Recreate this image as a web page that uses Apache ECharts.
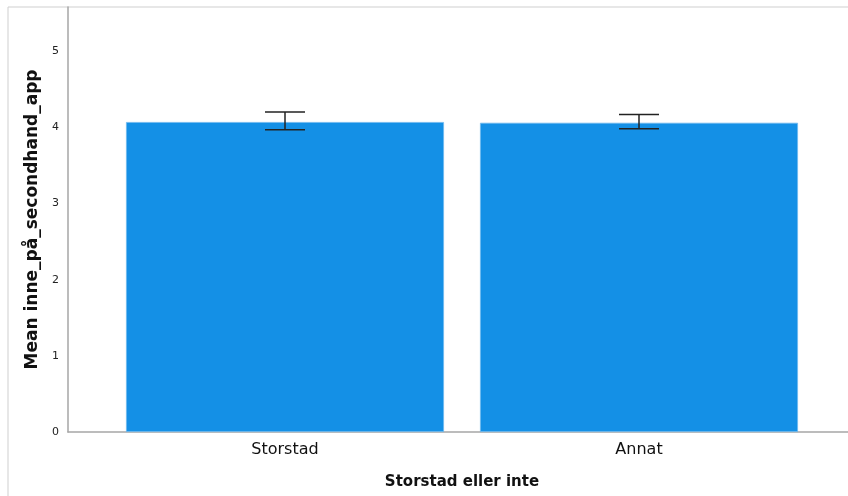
<!DOCTYPE html>
<html>
<head>
<meta charset="utf-8">
<script src="https://cdn.jsdelivr.net/npm/echarts@6/dist/echarts.min.js"></script>
<style>
  html, body { margin: 0; padding: 0; background: #fff; }
  #chart { width: 848px; height: 496px; }
</style>
</head>
<body>
<div id="chart"></div>
<script>
// data
var categories = ['Storstad', 'Annat'];
var means = [4.07, 4.06];
var ciLow = [3.97, 3.98];
var ciHigh = [4.20, 4.17];
var yTicks = [0, 1, 2, 3, 4, 5];

var chart = echarts.init(document.getElementById('chart'));

var FONT = 'DejaVu Sans';
var yMax = 5.58;

var errData = categories.map(function (c, i) {
    return [i, ciLow[i], ciHigh[i]];
});

var option = {
    backgroundColor: '#fff',
    animation: false,
    textStyle: { fontFamily: FONT },
    grid: [
        // frame grid: axis lines + y labels
        { left: 68, right: 0, top: 7, bottom: 64, outerBoundsMode: 'none', containLabel: false },
        // bars
        { left: 108, right: 32, top: 7, bottom: 64, outerBoundsMode: 'none', containLabel: false }
    ],
    xAxis: [
        {
            gridIndex: 0,
            type: 'category',
            data: [''],
            axisLine: { lineStyle: { color: '#a6a6a6', width: 1.5 } },
            axisTick: { show: false },
            axisLabel: { show: false }
        },
        {
            gridIndex: 1,
            type: 'category',
            data: categories,
            axisLine: { show: false },
            axisTick: { show: false },
            axisLabel: { color: '#111', fontSize: 16, margin: 10 },
            name: 'Storstad eller inte',
            nameLocation: 'middle',
            nameGap: 43,
            nameTextStyle: { color: '#111', fontSize: 15, fontWeight: 'bold' }
        }
    ],
    yAxis: [
        {
            gridIndex: 0,
            type: 'value',
            min: 0,
            max: yMax,
            interval: 1,
            axisLine: { show: true, lineStyle: { color: '#a6a6a6', width: 1.5 } },
            axisTick: { show: false },
            splitLine: { show: false },
            axisLabel: {
                color: '#222',
                fontSize: 11,
                margin: 9,
                formatter: function (v) {
                    return yTicks.indexOf(v) >= 0 ? String(v) : '';
                }
            },
            name: 'Mean inne_på_secondhand_app',
            nameLocation: 'middle',
            nameGap: 26,
            nameRotate: 90,
            nameTextStyle: { color: '#111', fontSize: 17, fontWeight: 'bold' }
        },
        {
            gridIndex: 1,
            type: 'value',
            min: 0,
            max: yMax,
            show: false
        }
    ],
    graphic: [
        {
            type: 'line',
            shape: { x1: 8, y1: 7, x2: 848, y2: 7 },
            style: { stroke: '#cfcfcf', lineWidth: 1 }
        },
        {
            type: 'line',
            shape: { x1: 8, y1: 7, x2: 8, y2: 496 },
            style: { stroke: '#cfcfcf', lineWidth: 1 }
        }
    ],
    series: [
        {
            type: 'bar',
            xAxisIndex: 1,
            yAxisIndex: 1,
            data: means,
            barWidth: 318,
            itemStyle: { color: '#1490e6', borderColor: '#6fb9ef', borderWidth: 0.8 }
        },
        {
            type: 'custom',
            xAxisIndex: 1,
            yAxisIndex: 1,
            data: errData,
            renderItem: function (params, api) {
                var x = api.value(0);
                var lo = api.coord([x, api.value(1)]);
                var hi = api.coord([x, api.value(2)]);
                var half = 20;
                var st = { stroke: '#222', lineWidth: 1.5 };
                return {
                    type: 'group',
                    children: [
                        { type: 'line', shape: { x1: lo[0], y1: lo[1], x2: hi[0], y2: hi[1] }, style: st },
                        { type: 'line', shape: { x1: lo[0] - half, y1: lo[1], x2: lo[0] + half, y2: lo[1] }, style: st },
                        { type: 'line', shape: { x1: hi[0] - half, y1: hi[1], x2: hi[0] + half, y2: hi[1] }, style: st }
                    ]
                };
            },
            z: 5
        }
    ]
};

chart.setOption(option);
</script>
</body>
</html>
